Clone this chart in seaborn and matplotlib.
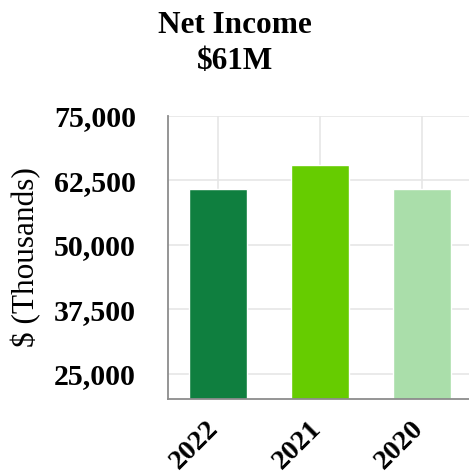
import matplotlib
matplotlib.use("Agg")
import matplotlib.pyplot as plt
import matplotlib.transforms as mtransforms
import seaborn as sns
import pandas as pd
from matplotlib.ticker import FuncFormatter

years = ["2022", "2021", "2020"]
net_income = [60700, 65400, 60700]
colors = ["#0f7f3f", "#66cc00", "#aadeaa"]
y_ticks = [25000, 37500, 50000, 62500, 75000]
title_lines = ["Net Income", "$61M"]
y_label = "$ (Thousands)"

sns.set_style("white")
plt.rcParams["font.family"] = ["Liberation Serif", "DejaVu Serif"]
plt.rcParams["text.color"] = "black"
plt.rcParams["axes.labelcolor"] = "black"
plt.rcParams["xtick.labelcolor"] = "black"
plt.rcParams["ytick.labelcolor"] = "black"

df = pd.DataFrame({"year": years, "value": net_income})

fig = plt.figure(figsize=(4.69, 4.76), dpi=100)
ax = fig.add_axes([168/469, 1-399.3/476, (469-168)/469, (399.3-115.7)/476])

sns.barplot(data=df, x="year", y="value", hue="year", palette=colors,
            order=years, hue_order=years, width=0.57, dodge=False,
            legend=False, ax=ax, saturation=1)

ax.set_ylim(20000, 75000)
ax.set_xlim(-0.49, 2.46)
ax.set_yticks(y_ticks)
ax.yaxis.set_major_formatter(FuncFormatter(lambda v, p: f"{int(v):,}"))
ax.set_axisbelow(True)
ax.grid(True, color="#e6e6e6", linewidth=1.2)

for s in ["top", "right"]:
    ax.spines[s].set_visible(False)
for s in ["left", "bottom"]:
    ax.spines[s].set_color("#8c8c8c")
    ax.spines[s].set_linewidth(1.3)

ax.tick_params(axis="y", length=8, width=1.2, color="#8c8c8c", pad=15,
               labelsize=21.5, labelcolor="black")
ax.tick_params(axis="x", length=8, width=1.2, color="#8c8c8c", pad=4,
               labelsize=20.5, labelcolor="black")
for lab in ax.get_yticklabels():
    lab.set_fontweight("bold")
offset = mtransforms.ScaledTranslation(6/100, 0, fig.dpi_scale_trans)
for lab in ax.get_xticklabels():
    lab.set_fontweight("bold")
    lab.set_rotation(45)
    lab.set_ha("right")
    lab.set_transform(lab.get_transform() + offset)

ax.set_xlabel("")
ax.set_ylabel(y_label, fontsize=22.5, color="black")
ax.yaxis.set_label_coords(-0.42, 0.5)

fig.text(0.5, 1-33/476, title_lines[0], ha="center", va="baseline",
         fontsize=22.5, fontweight="bold", color="black")
fig.text(0.5, 1-69/476, title_lines[1], ha="center", va="baseline",
         fontsize=22.5, fontweight="bold", color="black")

fig.savefig("out.png", dpi=100)
